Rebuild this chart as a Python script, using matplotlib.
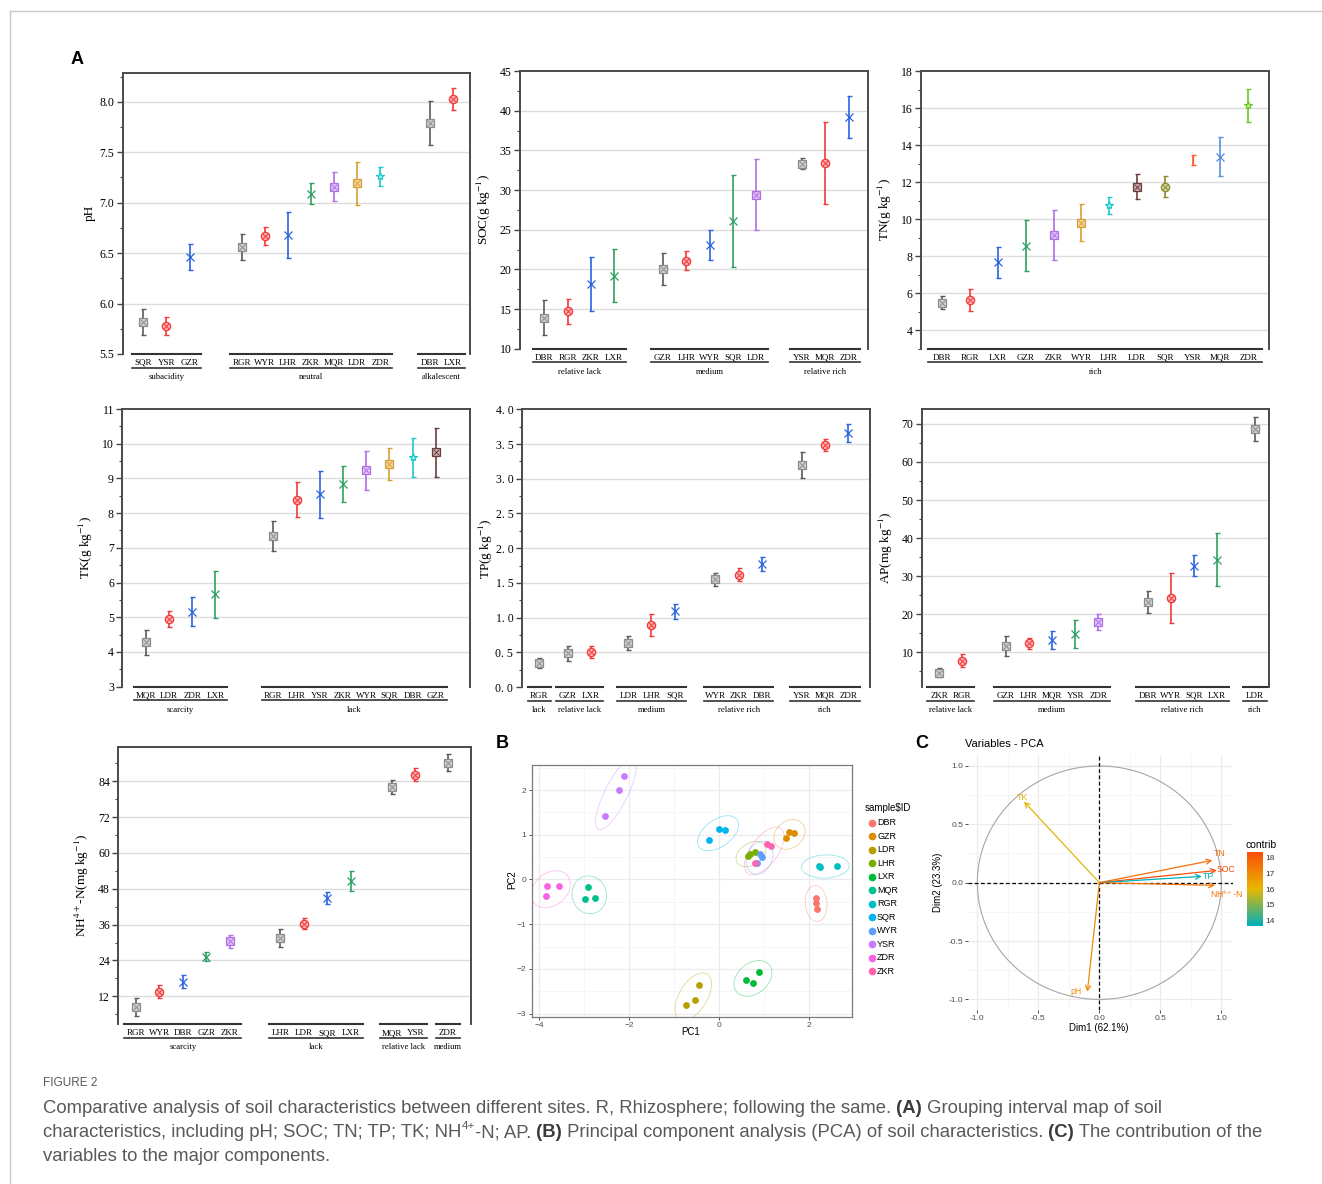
import numpy as np
import matplotlib
matplotlib.use('Agg')
import matplotlib.pyplot as plt
import matplotlib.transforms as mtrans
from matplotlib.ticker import MultipleLocator, FuncFormatter
from matplotlib.patches import Ellipse
from matplotlib.lines import Line2D
from matplotlib.colors import LinearSegmentedColormap, Normalize, to_rgb

plt.rcParams['font.family'] = ['Liberation Serif', 'DejaVu Serif']
plt.rcParams['mathtext.fontset'] = 'stix'
SANS = ['Liberation Sans', 'DejaVu Sans']
CAP = ['Liberation Sans', 'DejaVu Sans']

# ---------------- data: grouping interval maps (mean, sd) ----------------
ph_names = ['SQR', 'YSR', 'GZR', 'RGR', 'WYR', 'LHR', 'ZKR', 'MQR', 'LDR', 'ZDR', 'DBR', 'LXR']
ph_mean = [5.82, 5.78, 6.46, 6.56, 6.67, 6.68, 7.09, 7.16, 7.19, 7.26, 7.79, 8.03]
ph_err = [0.13, 0.09, 0.13, 0.13, 0.09, 0.23, 0.10, 0.14, 0.21, 0.09, 0.22, 0.11]
ph_groups = ['subacidity', 'neutral', 'alkalescent']
ph_sizes = [3, 7, 2]

soc_names = ['DBR', 'RGR', 'ZKR', 'LXR', 'GZR', 'LHR', 'WYR', 'SQR', 'LDR', 'YSR', 'MQR', 'ZDR']
soc_mean = [13.9, 14.7, 18.2, 19.2, 20.0, 21.1, 23.1, 26.1, 29.4, 33.3, 33.4, 39.2]
soc_err = [2.2, 1.6, 3.4, 3.35, 2.0, 1.2, 1.9, 5.85, 4.5, 0.7, 5.2, 2.7]
soc_groups = ['relative lack', 'medium', 'relative rich']
soc_sizes = [4, 5, 3]

tn_names = ['DBR', 'RGR', 'LXR', 'GZR', 'ZKR', 'WYR', 'LHR', 'LDR', 'SQR', 'YSR', 'MQR', 'ZDR']
tn_mean = [5.49, 5.62, 7.67, 8.57, 9.16, 9.81, 10.75, 11.76, 11.76, 13.18, 13.38, 16.15]
tn_err = [0.35, 0.6, 0.83, 1.4, 1.35, 1.0, 0.46, 0.68, 0.56, 0.26, 1.04, 0.89]
tn_groups = ['rich']
tn_sizes = [12]

tk_names = ['MQR', 'LDR', 'ZDR', 'LXR', 'RGR', 'LHR', 'YSR', 'ZKR', 'WYR', 'SQR', 'DBR', 'GZR']
tk_mean = [4.28, 4.95, 5.16, 5.66, 7.34, 8.39, 8.54, 8.83, 9.24, 9.42, 9.61, 9.75]
tk_err = [0.36, 0.22, 0.41, 0.67, 0.42, 0.51, 0.67, 0.52, 0.56, 0.46, 0.56, 0.71]
tk_groups = ['scarcity', 'lack']
tk_sizes = [4, 8]

tp_names = ['RGR', 'GZR', 'LXR', 'LDR', 'LHR', 'SQR', 'WYR', 'ZKR', 'DBR', 'YSR', 'MQR', 'ZDR']
tp_mean = [0.346, 0.485, 0.504, 0.639, 0.893, 1.09, 1.551, 1.618, 1.772, 3.198, 3.486, 3.664]
tp_err = [0.075, 0.11, 0.08, 0.10, 0.16, 0.11, 0.095, 0.09, 0.10, 0.19, 0.09, 0.13]
tp_groups = ['lack', 'relative lack', 'medium', 'relative rich', 'rich']
tp_sizes = [1, 2, 3, 3, 3]

ap_names = ['ZKR', 'RGR', 'GZR', 'LHR', 'MQR', 'YSR', 'ZDR', 'DBR', 'WYR', 'SQR', 'LXR', 'LDR']
ap_mean = [4.66, 7.81, 11.67, 12.37, 13.24, 14.73, 17.97, 23.31, 24.19, 32.77, 34.35, 68.69]
ap_err = [1.2, 1.7, 2.7, 1.4, 2.4, 3.7, 2.1, 2.9, 6.6, 2.7, 6.9, 3.2]
ap_groups = ['relative lack', 'medium', 'relative rich', 'rich']
ap_sizes = [2, 5, 4, 1]

nh_names = ['RGR', 'WYR', 'DBR', 'GZR', 'ZKR', 'LHR', 'LDR', 'SQR', 'LXR', 'MQR', 'YSR', 'ZDR']
nh_mean = [8.54, 13.56, 16.91, 25.28, 30.42, 31.65, 36.33, 44.93, 50.62, 82.1, 86.23, 90.25]
nh_err = [3.0, 2.2, 2.3, 1.6, 2.2, 3.0, 1.9, 2.1, 3.3, 2.5, 2.2, 2.8]
nh_groups = ['scarcity', 'lack', 'relative lack', 'medium']
nh_sizes = [5, 4, 2, 1]

# ---------------- data: PCA scores ----------------
pc_ids = ['DBR', 'GZR', 'LDR', 'LHR', 'LXR', 'MQR', 'RGR', 'SQR', 'WYR', 'YSR', 'ZDR', 'ZKR']
pc_cols = ['#F8766D', '#DE8C00', '#B79F00', '#7CAE00', '#00BA38', '#00C08B',
           '#00BFC4', '#00B4F0', '#619CFF', '#C77CFF', '#F564E3', '#FF64B0']
pc1 = [2.15, 2.16, 2.17, 1.49, 1.55, 1.66, -0.44, -0.54, -0.73, 0.64, 0.70, 0.80,
       0.90, 0.61, 0.76, -2.90, -2.98, -2.76, 2.23, 2.24, 2.62, -0.21, 0.01, 0.14,
       0.91, 0.95, 0.85, -2.53, -2.23, -2.10, -3.81, -3.56, -3.84, 1.07, 1.15, 0.81]
pc2 = [-0.42, -0.52, -0.67, 0.92, 1.06, 1.04, -2.36, -2.69, -2.81, 0.52, 0.56, 0.62,
       -2.07, -2.25, -2.32, -0.18, -0.43, -0.42, 0.30, 0.27, 0.30, 0.88, 1.12, 1.10,
       0.57, 0.51, 0.37, 1.43, 2.00, 2.31, -0.14, -0.14, -0.38, 0.80, 0.75, 0.36]

# ---------------- data: PCA variables ----------------
var_names = ['pH', 'SOC', 'TN', 'TP', 'TK', 'NH$^{4+}$-N']
var_d1 = [-0.098, 0.962, 0.926, 0.839, -0.617, 0.948]
var_d2 = [-0.934, 0.105, 0.191, 0.054, 0.694, -0.023]
var_contrib = [17.0, 18.3, 17.6, 13.7, 15.9, 17.5]

W, H = 1322, 1184
fig = plt.figure(figsize=(W / 100, H / 100), dpi=100)


def rect(l, t, r, b):
    return [l / W, 1 - b / H, (r - l) / W, (b - t) / H]


PAL = ['#8c8c8c', '#f23a3a', '#2a64e0', '#2ea062', '#b26ee6', '#d8a030',
       '#1ec8cc', '#6e3c3c', '#8c8c28', '#ff5a28', '#5a8ede', '#6cc828']
MKS = ['s', 'o', 'x', 'x', 's', 's', '*', 's', 'o', '|', 'x', '*']


def lighten(c, f):
    r = np.array(to_rgb(c))
    return tuple(r + (1 - r) * f)


def positions(sizes, gaps):
    pos, x = [], 0.0
    for gi, n in enumerate(sizes):
        if gi > 0:
            x += gaps[gi - 1]
        for k in range(n):
            pos.append(x)
            x += 1
        x -= 1
    return pos


def interval_panel(box, names, mean, err, sizes, glabels, gaps, pads, ylim, step, fmt, ylabel):
    l, t, r, b = box
    wpx, hpx = r - l, b - t
    ax = fig.add_axes(rect(*box))
    pos = positions(sizes, gaps)
    ax.set_xlim(pos[0] - pads[0], pos[-1] + pads[1])
    ax.set_ylim(*ylim)
    ax.yaxis.set_major_locator(MultipleLocator(step))
    ax.yaxis.set_minor_locator(MultipleLocator(step / 2))
    ax.yaxis.set_major_formatter(FuncFormatter(fmt))
    ax.set_xticks([])
    ax.tick_params(axis='y', which='major', length=4, width=1, color='#444444', labelsize=8.5, pad=2)
    ax.tick_params(axis='y', which='minor', length=2, width=0.8, color='#444444')
    for sp in ['left', 'top', 'right']:
        ax.spines[sp].set_color('#4a4a4a')
        ax.spines[sp].set_linewidth(1.4)
    ax.spines['bottom'].set_visible(False)
    for v in np.arange(0, ylim[1], step):
        if ylim[0] + 1e-6 < v < ylim[1] - 1e-6:
            ax.axhline(v, color='#dcdcdc', lw=1.0, zorder=0)
    ax.set_ylabel(ylabel, fontsize=9.5)
    ax.yaxis.set_label_coords(-27 / wpx, 0.5)

    trans = mtrans.blended_transform_factory(ax.transData, ax.transAxes)
    i = 0
    for gi, n in enumerate(sizes):
        gp = pos[i:i + n]
        x0, x1 = gp[0] - 0.5, gp[-1] + 0.5
        ax.plot([x0, x1], [0, 0], transform=trans, clip_on=False, color='#333333', lw=1.5)
        ax.plot([x0, x1], [-13.5 / hpx] * 2, transform=trans, clip_on=False, color='#333333', lw=1.2)
        ax.text((x0 + x1) / 2, -25 / hpx, glabels[gi], transform=trans, ha='center',
                va='baseline', fontsize=6.2)
        for k in range(n):
            j = i + k
            c = PAL[k]
            ec = '#5a5a5a' if k == 0 else c
            ax.errorbar(pos[j], mean[j], yerr=err[j], fmt='none', ecolor=ec, elinewidth=1.2,
                        capsize=1.8, capthick=1.0, zorder=3)
            ax.plot(pos[j], mean[j], marker=MKS[k], ms=6, mfc=lighten(c, 0.6), mec=c, mew=0.9,
                    color=c, zorder=4)
            if MKS[k] in ('s', 'o'):
                ax.plot(pos[j], mean[j], marker='x', ms=3.8, color=c, mew=0.7, zorder=5)
            ax.text(pos[j], -10.8 / hpx, names[j], transform=trans, ha='center',
                    va='baseline', fontsize=6.5)
        i += n
    return ax


f1 = lambda v, p: f'{v:.1f}'
f0 = lambda v, p: f'{v:.0f}'
fsp = lambda v, p: f'{v:.1f}'.replace('.', '. ')

interval_panel((122.5, 72.5, 470, 354), ph_names, ph_mean, ph_err, ph_sizes, ph_groups,
               [2.25, 2.15], (0.9, 0.73), (5.5, 8.29), 0.5, f1, 'pH')
interval_panel((520, 71, 868, 348.7), soc_names, soc_mean, soc_err, soc_sizes, soc_groups,
               [2.09, 1.97], (1.04, 0.83), (10, 45), 5, f0, 'SOC(g kg$^{-1}$)')
interval_panel((920.7, 71, 1269.3, 348.7), tn_names, tn_mean, tn_err, tn_sizes, tn_groups,
               [], (0.78, 0.76), (3, 18), 2, f0, 'TN(g kg$^{-1}$)')
interval_panel((122.3, 409, 470, 686.7), tk_names, tk_mean, tk_err, tk_sizes, tk_groups,
               [2.5], (1.02, 1.48), (3, 11), 1, f0, 'TK(g kg$^{-1}$)')
interval_panel((521.7, 409.3, 870, 687), tp_names, tp_mean, tp_err, tp_sizes, tp_groups,
               [1.24, 1.6, 1.75, 1.72], (0.75, 0.94), (0, 4.0), 0.5, fsp, 'TP(g kg$^{-1}$)')
interval_panel((921.7, 409, 1269.3, 687), ap_names, ap_mean, ap_err, ap_sizes, ap_groups,
               [1.88, 2.14, 1.63], (0.75, 0.62), (0.9, 73.9), 10, f0, 'AP(mg kg$^{-1}$)')
interval_panel((118.3, 747.3, 471, 1024.3), nh_names, nh_mean, nh_err, nh_sizes, nh_groups,
               [2.16, 1.75, 1.38], (0.75, 0.99), (2.6, 95.4), 12, f0, 'NH$^{4+}$-N(mg kg$^{-1}$)')

# ---------------- B: PCA scores ----------------
axb = fig.add_axes(rect(531.7, 765, 851.7, 1016.7))
axb.set_xlim(-4.16, 2.95)
axb.set_ylim(-3.07, 2.56)
axb.set_xticks([-4, -2, 0, 2])
axb.set_yticks([-3, -2, -1, 0, 1, 2])
axb.set_xticks([-3, -1, 1], minor=True)
axb.set_yticks([-2.5, -1.5, -0.5, 0.5, 1.5, 2.5], minor=True)
axb.grid(which='major', color='#ebebeb', lw=0.9)
axb.grid(which='minor', color='#f3f3f3', lw=0.5)
axb.set_axisbelow(True)
axb.tick_params(which='major', length=2.5, width=0.6, color='#333333', labelsize=6, labelcolor='#4d4d4d', pad=1.5)
axb.tick_params(which='minor', length=0)
for lab in axb.get_xticklabels() + axb.get_yticklabels():
    lab.set_family(SANS)
for sp in axb.spines.values():
    sp.set_color('#7a7a7a')
    sp.set_linewidth(0.9)
pc1a, pc2a = np.array(pc1), np.array(pc2)
for gi, gid in enumerate(pc_ids):
    xs, ys = pc1a[gi * 3:gi * 3 + 3], pc2a[gi * 3:gi * 3 + 3]
    pts = np.column_stack([xs, ys])
    cov = np.cov(pts.T)
    vals, vecs = np.linalg.eigh(cov)
    radii = 1.3 * np.sqrt(np.maximum(vals, 0)) + 0.24
    ang = np.degrees(np.arctan2(vecs[1, 1], vecs[0, 1]))
    axb.add_patch(Ellipse(pts.mean(axis=0), 2 * radii[1], 2 * radii[0], angle=ang,
                          fill=False, ec=pc_cols[gi], lw=0.6, alpha=0.4, zorder=2))
    axb.scatter(xs, ys, s=24, color=pc_cols[gi], lw=0, zorder=3)
fig.text(691 / W, 1 - 1032 / H, 'PC1', ha='center', va='center', fontsize=7, family=SANS)
fig.text(512 / W, 1 - 880 / H, 'PC2', ha='center', va='center', fontsize=7, family=SANS, rotation=90)
fig.text(865 / W, 1 - 808 / H, 'sample$ID', ha='left', va='center', fontsize=7, family=SANS)
for gi, gid in enumerate(pc_ids):
    yy = 822.7 + gi * 13.5
    fig.add_artist(Line2D([871.7 / W], [1 - yy / H], marker='o', ms=4.5, color=pc_cols[gi], lw=0))
    fig.text(877 / W, 1 - yy / H, gid, ha='left', va='center', fontsize=6.5, family=SANS)

# ---------------- C: PCA variables ----------------
axc = fig.add_axes(rect(968.3, 755, 1233.3, 1010))
axc.set_xlim(-1.074, 1.098)
axc.set_ylim(-1.091, 1.094)
ticks = [-1.0, -0.5, 0.0, 0.5, 1.0]
axc.set_xticks(ticks)
axc.set_yticks(ticks)
axc.set_xticks([-0.75, -0.25, 0.25, 0.75], minor=True)
axc.set_yticks([-0.75, -0.25, 0.25, 0.75], minor=True)
axc.xaxis.set_major_formatter(FuncFormatter(f1))
axc.yaxis.set_major_formatter(FuncFormatter(f1))
axc.grid(which='major', color='#ebebeb', lw=0.9)
axc.grid(which='minor', color='#f3f3f3', lw=0.5)
axc.set_axisbelow(True)
axc.tick_params(which='major', length=2, width=0.6, color='#333333', labelsize=6, labelcolor='#4d4d4d', pad=1.5)
axc.tick_params(which='minor', length=0)
for lab in axc.get_xticklabels() + axc.get_yticklabels():
    lab.set_family(SANS)
for sp in axc.spines.values():
    sp.set_visible(False)
th = np.linspace(0, 2 * np.pi, 300)
axc.plot(np.cos(th), np.sin(th), color='#a6a6a6', lw=0.8)
axc.axhline(0, color='black', lw=0.9, ls=(0, (3, 2)))
axc.axvline(0, color='black', lw=0.9, ls=(0, (3, 2)))
cmap = LinearSegmentedColormap.from_list('contrib', ['#00AFBB', '#E7B800', '#FC4E07'])
norm = Normalize(13.7, 18.3)
lab_off = [(-8, 0), (7, 1), (5, 5), (4.5, 0), (-1, 3), (8, -6.5)]
for k, name in enumerate(var_names):
    c = cmap(norm(var_contrib[k]))
    axc.annotate('', xy=(var_d1[k], var_d2[k]), xytext=(0, 0),
                 arrowprops=dict(arrowstyle='->,head_length=0.35,head_width=0.18', color=c, lw=0.9,
                                 shrinkA=0, shrinkB=0))
    axc.annotate(name, xy=(var_d1[k], var_d2[k]), xytext=lab_off[k], textcoords='offset points',
                 ha='center', va='center', fontsize=6.3, color=c, family=SANS)
fig.text(965 / W, 1 - 744 / H, 'Variables - PCA', ha='left', va='center', fontsize=8, family=SANS)
fig.text(1099 / W, 1 - 1028 / H, 'Dim1 (62.1%)', ha='center', va='center', fontsize=7, family=SANS)
fig.text(937.7 / W, 1 - 882 / H, 'Dim2 (23.3%)', ha='center', va='center', fontsize=7, family=SANS, rotation=90)
cax = fig.add_axes(rect(1246.7, 852.3, 1262.7, 925.7))
grad = np.linspace(18.3, 13.7, 100).reshape(-1, 1)
cax.imshow(grad, aspect='auto', cmap=cmap, norm=norm, extent=[0, 1, 13.7, 18.3])
cax.set_xticks([])
cax.yaxis.tick_right()
cax.set_yticks([14, 15, 16, 17, 18])
cax.tick_params(axis='y', length=0, labelsize=6, labelcolor='#333333', pad=2)
for lab in cax.get_yticklabels():
    lab.set_family(SANS)
for sp in cax.spines.values():
    sp.set_visible(False)
fig.text(1245 / W, 1 - 845 / H, 'contrib', ha='left', va='center', fontsize=7.5, family=SANS)

# ---------------- panel letters, frame, caption ----------------
for s, x, y in [('A', 77, 60), ('B', 502, 744), ('C', 922, 744)]:
    fig.text(x / W, 1 - y / H, s, ha='center', va='center', fontsize=13, weight='bold', family=SANS)
fig.add_artist(Line2D([9.5 / W, 1], [1 - 11 / H, 1 - 11 / H], color='#c8c8c8', lw=1))
fig.add_artist(Line2D([9.5 / W, 9.5 / W], [0, 1 - 11 / H], color='#c8c8c8', lw=1))

fig.text(43 / W, 1 - 1083 / H, 'FIGURE 2', ha='left', va='center', fontsize=8.5, color='#595959', family=CAP)

rend = fig.canvas.get_renderer()


def rich_line(xpx, ypx, parts, size=13.3, color='#595959'):
    x = xpx
    for txt, style in parts:
        kw = dict(fontsize=size, color=color, family=CAP, va='baseline', ha='left')
        yy = ypx
        if style == 'b':
            kw['weight'] = 'bold'
            kw['color'] = '#3a3a3a'
        if style == 'sup':
            kw['fontsize'] = size * 0.62
            yy = ypx - size * 0.45 * 100 / 72
        t = fig.text(x / W, 1 - yy / H, txt, **kw)
        x += t.get_window_extent(renderer=rend).width


rich_line(43, 1113, [('Comparative analysis of soil characteristics between different sites. R, Rhizosphere; following the same.', ''),
                     (' (A)', 'b'), (' Grouping interval map of soil', '')])
rich_line(43, 1137, [('characteristics, including pH; SOC; TN; TP; TK; NH', ''), ('4+', 'sup'), ('-N; AP.', ''),
                     (' (B)', 'b'), (' Principal component analysis (PCA) of soil characteristics.', ''),
                     (' (C)', 'b'), (' The contribution of the', '')])
rich_line(43, 1161, [('variables to the major components.', '')])

fig.savefig('out.png', dpi=100)
